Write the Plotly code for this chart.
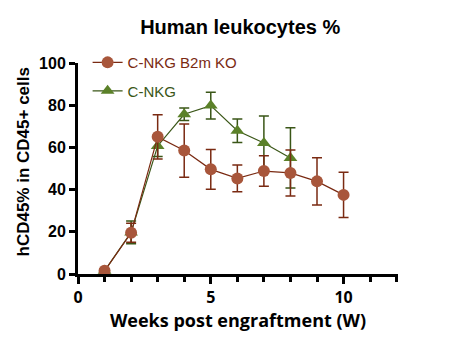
import plotly.graph_objects as go

# Weeks post engraftment and hCD45% (mean, SD) per group
weeks_ko = [1, 2, 3, 4, 5, 6, 7, 8, 9, 10]
ko_mean = [1.5, 19.5, 65.0, 58.5, 49.6, 45.3, 48.8, 47.9, 43.9, 37.5]
ko_sd = [0.8, 4.5, 10.5, 12.6, 9.4, 6.3, 7.2, 10.9, 11.2, 10.7]

weeks_nkg = [1, 2, 3, 4, 5, 6, 7, 8]
nkg_mean = [1.5, 19.7, 60.7, 75.7, 79.8, 67.9, 62.1, 55.0]
nkg_sd = [0.8, 5.4, 5.0, 3.0, 6.3, 5.6, 12.8, 14.3]

ko_fill = "#A8563B"
ko_line = "#7A2A12"
nkg_fill = "#5B8129"
nkg_line = "#3A5617"

fig = go.Figure()

fig.add_trace(go.Scatter(
    x=weeks_nkg, y=nkg_mean,
    name="<span style='color:#3A5617'>C-NKG</span>",
    legendgroup="nkg", legendrank=2,
    mode="lines+markers",
    line=dict(color=nkg_line, width=1.2),
    marker=dict(symbol="triangle-up", size=12, color=nkg_fill),
    error_y=dict(type="data", array=nkg_sd, color=nkg_line, thickness=1.5, width=5),
))

fig.add_trace(go.Scatter(
    x=weeks_ko, y=ko_mean,
    name="<span style='color:#7A2A12'>C-NKG B2m KO</span>",
    legendgroup="ko", legendrank=1,
    mode="lines+markers",
    line=dict(color=ko_line, width=1.2),
    marker=dict(symbol="circle", size=12, color=ko_fill),
    error_y=dict(type="data", array=ko_sd, color=ko_line, thickness=1.5, width=5),
))

arial = "Arial, Liberation Sans, sans-serif"
bold = dict(family=arial, color="black")
wide = dict(family="Open Sans, Arial, sans-serif", color="black")

fig.update_layout(
    width=449, height=350,
    margin=dict(l=78, r=51, t=63, b=76),
    paper_bgcolor="white", plot_bgcolor="white",
    title=dict(text="<b>Human leukocytes %</b>", x=0.535, xanchor="center",
               y=0.922, yanchor="middle", font=dict(size=20, **bold)),
    legend=dict(x=0.03, y=1.08, xanchor="left", yanchor="top",
                traceorder="grouped", bgcolor="rgba(0,0,0,0)",
                font=dict(size=15, family=arial),
                itemwidth=30, tracegroupgap=6),
    xaxis=dict(
        range=[0, 12.05], tickvals=[0, 5, 10], ticktext=["<b>0</b>", "<b>5</b>", "<b>10</b>"],
        showgrid=False, zeroline=False, showline=True, linecolor="black", linewidth=3,
        ticks="outside", ticklen=7, tickwidth=2.5, tickcolor="black",
        minor=dict(dtick=1, tick0=0, ticks="outside", ticklen=5, tickwidth=2.5, tickcolor="black"),
        tickfont=dict(size=16, **wide),
        title=dict(text="<b>Weeks post engraftment (W)</b>", font=dict(size=18, **wide), standoff=7),
    ),
    yaxis=dict(
        range=[0, 100], tickvals=[0, 20, 40, 60, 80, 100],
        ticktext=["<b>%d</b>" % v for v in [0, 20, 40, 60, 80, 100]],
        showgrid=False, zeroline=False, showline=True, linecolor="black", linewidth=3,
        ticks="outside", ticklen=6, tickwidth=2.5, tickcolor="black",
        tickfont=dict(size=16, **bold),
    ),
    annotations=[dict(
        text="<b>hCD45% in CD45+ cells</b>", textangle=-90,
        xref="paper", yref="paper", x=0, y=0.5, xanchor="center", yanchor="middle",
        xshift=-55, yshift=6, showarrow=False, font=dict(size=17, **bold),
    )],
)

fig.write_html("out.html")
